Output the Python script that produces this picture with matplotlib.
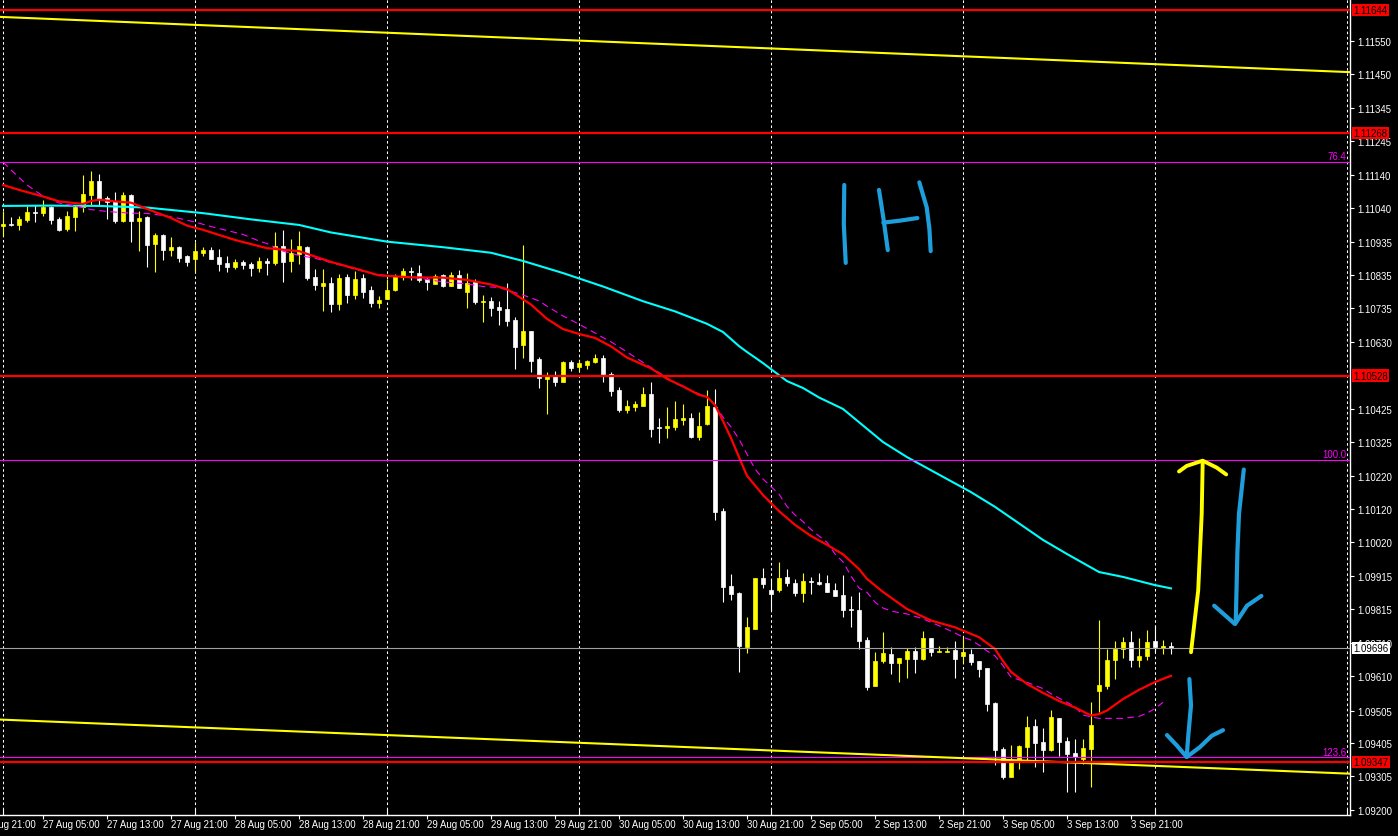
import matplotlib
matplotlib.use('Agg')
import matplotlib.pyplot as plt
from matplotlib.transforms import blended_transform_factory

plt.rcParams['font.family'] = ['Liberation Sans', 'DejaVu Sans']

# ---------------- data (hourly EURUSD bars, index 0 = 27 Aug 00:00) ----------------
opens = [1.10986, 1.10990, 1.10989, 1.11003, 1.11028, 1.11024, 1.11042, 1.11006, 1.10976, 1.11013,
         1.11044, 1.11080, 1.11121, 1.11070, 1.11061, 1.11000, 1.11079, 1.11000, 1.11011, 1.10930,
         1.10957, 1.10911, 1.10920, 1.10892, 1.10884, 1.10901, 1.10911, 1.10889, 1.10872, 1.10859,
         1.10875, 1.10868, 1.10857, 1.10879, 1.10872, 1.10923, 1.10879, 1.10899, 1.10921, 1.10829,
         1.10802, 1.10811, 1.10747, 1.10829, 1.10775, 1.10826, 1.10790, 1.10750, 1.10762, 1.10789,
         1.10830, 1.10848, 1.10841, 1.10823, 1.10809, 1.10836, 1.10802, 1.10836, 1.10784, 1.10816,
         1.10754, 1.10757, 1.10737, 1.10731, 1.10698, 1.10621, 1.10664, 1.10579, 1.10517, 1.10528,
         1.10509, 1.10569, 1.10554, 1.10560, 1.10570, 1.10582, 1.10533, 1.10484, 1.10424, 1.10433,
         1.10436, 1.10472, 1.10371, 1.10369, 1.10372, 1.10393, 1.10398, 1.10341, 1.10380, 1.10431,
         1.10114, 1.09884, 1.09864, 1.09700, 1.09754, 1.09910, 1.09873, 1.09873, 1.09914, 1.09894,
         1.09864, 1.09902, 1.09898, 1.09894, 1.09874, 1.09858, 1.09815, 1.09812, 1.09720, 1.09581,
         1.09657, 1.09678, 1.09649, 1.09662, 1.09687, 1.09662, 1.09727, 1.09683, 1.09685, 1.09690,
         1.09672, 1.09678, 1.09656, 1.09635, 1.09528, 1.09387, 1.09303, 1.09349, 1.09395, 1.09459,
         1.09408, 1.09384, 1.09482, 1.09411, 1.09375, 1.09357, 1.09387, 1.09566, 1.09581, 1.09659,
         1.09693, 1.09715, 1.09659, 1.09672, 1.09717, 1.09697, 1.09702]
highs = [1.11032, 1.11011, 1.11014, 1.11047, 1.11049, 1.11065, 1.11047, 1.11011, 1.11032, 1.11047,
         1.11141, 1.11152, 1.11144, 1.11077, 1.11088, 1.11088, 1.11083, 1.11032, 1.11016, 1.10963,
         1.10960, 1.10950, 1.10923, 1.10896, 1.10937, 1.10920, 1.10920, 1.10915, 1.10892, 1.10884,
         1.10881, 1.10874, 1.10889, 1.10886, 1.10966, 1.10973, 1.10945, 1.10970, 1.10925, 1.10853,
         1.10853, 1.10828, 1.10838, 1.10838, 1.10848, 1.10838, 1.10802, 1.10770, 1.10823, 1.10838,
         1.10856, 1.10860, 1.10867, 1.10828, 1.10838, 1.10838, 1.10843, 1.10850, 1.10841, 1.10823,
         1.10774, 1.10767, 1.10757, 1.10811, 1.10706, 1.10927, 1.10664, 1.10584, 1.10538, 1.10541,
         1.10573, 1.10576, 1.10576, 1.10576, 1.10594, 1.10591, 1.10538, 1.10492, 1.10453, 1.10451,
         1.10492, 1.10509, 1.10398, 1.10433, 1.10450, 1.10441, 1.10414, 1.10418, 1.10484, 1.10487,
         1.10124, 1.09922, 1.09866, 1.09792, 1.09910, 1.09940, 1.09907, 1.09960, 1.09937, 1.09907,
         1.09925, 1.09914, 1.09924, 1.09919, 1.09894, 1.09919, 1.09854, 1.09868, 1.09729, 1.09685,
         1.09744, 1.09700, 1.09665, 1.09695, 1.09698, 1.09748, 1.09727, 1.09703, 1.09700, 1.09718,
         1.09730, 1.09693, 1.09656, 1.09635, 1.09532, 1.09393, 1.09400, 1.09400, 1.09489, 1.09479,
         1.09452, 1.09507, 1.09482, 1.09423, 1.09418, 1.09418, 1.09530, 1.09782, 1.09693, 1.09718,
         1.09730, 1.09749, 1.09727, 1.09751, 1.09766, 1.09720, 1.09713]
lows = [1.10955, 1.10986, 1.10973, 1.10996, 1.10998, 1.11016, 1.10991, 1.10970, 1.10970, 1.10970,
        1.11028, 1.11050, 1.11050, 1.11006, 1.10993, 1.10996, 1.10935, 1.10909, 1.10860, 1.10845,
        1.10882, 1.10894, 1.10874, 1.10863, 1.10843, 1.10894, 1.10884, 1.10848, 1.10845, 1.10853,
        1.10853, 1.10833, 1.10843, 1.10835, 1.10866, 1.10815, 1.10845, 1.10869, 1.10821, 1.10790,
        1.10726, 1.10723, 1.10729, 1.10750, 1.10762, 1.10765, 1.10736, 1.10734, 1.10762, 1.10787,
        1.10821, 1.10821, 1.10815, 1.10790, 1.10808, 1.10798, 1.10801, 1.10796, 1.10734, 1.10747,
        1.10692, 1.10711, 1.10682, 1.10680, 1.10548, 1.10583, 1.10540, 1.10491, 1.10412, 1.10497,
        1.10507, 1.10543, 1.10543, 1.10548, 1.10566, 1.10509, 1.10466, 1.10416, 1.10413, 1.10421,
        1.10435, 1.10341, 1.10322, 1.10337, 1.10363, 1.10378, 1.10337, 1.10332, 1.10377, 1.10088,
        1.09836, 1.09843, 1.09624, 1.09681, 1.09754, 1.09879, 1.09812, 1.09866, 1.09886, 1.09856,
        1.09837, 1.09861, 1.09888, 1.09868, 1.09856, 1.09792, 1.09759, 1.09693, 1.09569, 1.09581,
        1.09649, 1.09617, 1.09593, 1.09605, 1.09620, 1.09659, 1.09672, 1.09683, 1.09685, 1.09604,
        1.09649, 1.09645, 1.09608, 1.09505, 1.09340, 1.09296, 1.09303, 1.09326, 1.09347, 1.09332,
        1.09318, 1.09382, 1.09367, 1.09255, 1.09255, 1.09342, 1.09272, 1.09500, 1.09571, 1.09601,
        1.09665, 1.09639, 1.09639, 1.09659, 1.09685, 1.09678, 1.09678]
closes = [1.10991, 1.10988, 1.11006, 1.11028, 1.11024, 1.11044, 1.11004, 1.10973, 1.11014, 1.11044,
          1.11083, 1.11121, 1.11067, 1.11059, 1.11000, 1.11079, 1.11000, 1.11009, 1.10928, 1.10957,
          1.10912, 1.10921, 1.10887, 1.10876, 1.10908, 1.10912, 1.10884, 1.10870, 1.10860, 1.10875,
          1.10866, 1.10857, 1.10878, 1.10873, 1.10923, 1.10876, 1.10902, 1.10923, 1.10825, 1.10805,
          1.10811, 1.10747, 1.10826, 1.10775, 1.10823, 1.10784, 1.10750, 1.10760, 1.10790, 1.10833,
          1.10848, 1.10843, 1.10820, 1.10813, 1.10833, 1.10802, 1.10836, 1.10796, 1.10811, 1.10754,
          1.10757, 1.10734, 1.10729, 1.10696, 1.10616, 1.10665, 1.10573, 1.10520, 1.10530, 1.10509,
          1.10569, 1.10552, 1.10566, 1.10572, 1.10583, 1.10532, 1.10482, 1.10424, 1.10435, 1.10442,
          1.10472, 1.10365, 1.10369, 1.10374, 1.10395, 1.10398, 1.10341, 1.10374, 1.10436, 1.10112,
          1.09883, 1.09861, 1.09703, 1.09760, 1.09910, 1.09891, 1.09861, 1.09910, 1.09894, 1.09864,
          1.09902, 1.09897, 1.09892, 1.09868, 1.09856, 1.09813, 1.09811, 1.09718, 1.09578, 1.09656,
          1.09681, 1.09649, 1.09665, 1.09687, 1.09662, 1.09727, 1.09683, 1.09688, 1.09688, 1.09662,
          1.09683, 1.09654, 1.09632, 1.09525, 1.09384, 1.09301, 1.09352, 1.09396, 1.09456, 1.09406,
          1.09384, 1.09486, 1.09408, 1.09372, 1.09362, 1.09390, 1.09461, 1.09583, 1.09659, 1.09693,
          1.09715, 1.09659, 1.09672, 1.09715, 1.09700, 1.09702, 1.09696]

time_labels = ["26 Aug 21:00", "27 Aug 05:00", "27 Aug 13:00", "27 Aug 21:00", "28 Aug 05:00",
               "28 Aug 13:00", "28 Aug 21:00", "29 Aug 05:00", "29 Aug 13:00", "29 Aug 21:00",
               "30 Aug 05:00", "30 Aug 13:00", "30 Aug 21:00", "2 Sep 05:00", "2 Sep 13:00",
               "2 Sep 21:00", "3 Sep 05:00", "3 Sep 13:00", "3 Sep 21:00"]
label_bars = [-3, 5, 13, 21, 29, 37, 45, 53, 61, 69, 77, 85, 93, 101, 109, 117, 125, 133, 141]
day_bars = [0, 24, 48, 72, 96, 120, 144, 168]

cyan_bars = [0, 6, 12, 18, 25, 31, 37, 41, 48, 55, 61, 65, 70, 75, 80, 84, 88, 90, 92, 93, 95, 98,
             100, 102, 105, 110, 113, 118, 121, 124, 130, 133, 137, 140, 144, 146]
cyan_vals = [1.11046, 1.11047, 1.11046, 1.11041, 1.11024, 1.11005, 1.10988, 1.10965, 1.10937,
             1.10920, 1.10903, 1.10878, 1.10841, 1.10800, 1.10755, 1.10724, 1.10686, 1.10661,
             1.10618, 1.10600, 1.10566, 1.10511, 1.10490, 1.10461, 1.10426, 1.10325, 1.10279,
             1.10212, 1.10172, 1.10127, 1.10026, 1.09983, 1.09928, 1.09913, 1.09888, 1.09878]

red_bars = [0, 2, 5, 7, 10, 11, 12, 14, 16, 18, 21, 23, 25, 29, 33, 37, 41, 44, 47, 51, 55, 58, 61,
            63, 66, 68, 70, 72, 74, 76, 78, 81, 83, 85, 87, 88, 89, 90, 91, 92, 93, 95, 97, 99, 101,
            103, 105, 107, 108, 110, 113, 116, 119, 122, 124, 125, 126, 128, 130, 132, 134, 136,
            137, 138, 140, 142, 144, 146]
red_vals = [1.11110, 1.11095, 1.11075, 1.11060, 1.11052, 1.11061, 1.11065, 1.11060, 1.11056, 1.11037,
            1.11009, 1.10986, 1.10973, 1.10942, 1.10917, 1.10908, 1.10875, 1.10855, 1.10834, 1.10828,
            1.10827, 1.10820, 1.10806, 1.10792, 1.10745, 1.10701, 1.10670, 1.10655, 1.10643, 1.10617,
            1.10583, 1.10550, 1.10518, 1.10495, 1.10469, 1.10463, 1.10438, 1.10389, 1.10337, 1.10279,
            1.10222, 1.10163, 1.10114, 1.10072, 1.10038, 1.10011, 1.09982, 1.09937, 1.09907, 1.09867,
            1.09815, 1.09780, 1.09759, 1.09729, 1.09693, 1.09656, 1.09623, 1.09586, 1.09559, 1.09534,
            1.09514, 1.09490, 1.09494, 1.09505, 1.09540, 1.09568, 1.09592, 1.09611]

mag_bars = [0, 1, 3, 5, 7, 9, 11, 13, 16, 18, 20, 22, 24, 26, 28, 30, 32, 33, 35, 37, 39, 41, 44,
            46, 48, 51, 55, 58, 60, 62, 63, 65, 67, 68, 70, 72, 74, 75, 76, 78, 80, 82, 84, 86, 88,
            89, 90, 91, 92, 93, 94, 95, 96, 97, 98, 99, 100, 101, 102, 103, 104, 105, 106, 107, 108,
            109, 110, 111, 112, 113, 115, 117, 119, 120, 121, 122, 123, 124, 125, 126, 128, 130,
            131, 133, 134, 135, 137, 140, 142, 143, 144, 145]
mag_vals = [1.11180, 1.11156, 1.11110, 1.11076, 1.11055, 1.11046, 1.11035, 1.11029, 1.11024, 1.11023,
            1.11017, 1.11008, 1.10997, 1.10983, 1.10971, 1.10959, 1.10939, 1.10931, 1.10908, 1.10895,
            1.10886, 1.10873, 1.10853, 1.10840, 1.10833, 1.10829, 1.10814, 1.10808, 1.10800, 1.10797,
            1.10789, 1.10774, 1.10756, 1.10740, 1.10710, 1.10685, 1.10658, 1.10644, 1.10631, 1.10600,
            1.10568, 1.10537, 1.10505, 1.10482, 1.10462, 1.10438, 1.10401, 1.10371, 1.10334, 1.10288,
            1.10243, 1.10212, 1.10189, 1.10166, 1.10128, 1.10102, 1.10082, 1.10058, 1.10038, 1.10019,
            1.09983, 1.09959, 1.09916, 1.09879, 1.09866, 1.09836, 1.09818, 1.09809, 1.09804, 1.09800,
            1.09785, 1.09764, 1.09742, 1.09729, 1.09720, 1.09705, 1.09687, 1.09672, 1.09642, 1.09607,
            1.09591, 1.09572, 1.09556, 1.09530, 1.09516, 1.09491, 1.09481, 1.09481, 1.09487, 1.09497,
            1.09511, 1.09530]

red_levels = [1.11644, 1.11268, 1.10528, 1.09347]
fib_levels = [1.11180, 1.10271, 1.09362]
fib_labels = ["76.4", "100.0", "123.6"]
bid_price = 1.09696
channel_top = [(0, 1.11623), (146, 1.11477)]
channel_bottom = [(0, 1.09477), (146, 1.09334)]

ytick_vals = [1.11550, 1.11450, 1.11345, 1.11245, 1.11140, 1.11040, 1.10935, 1.10835, 1.10735,
              1.10630, 1.10425, 1.10325, 1.10220, 1.10120, 1.10020, 1.09915, 1.09815,
              1.09710, 1.09610, 1.09505, 1.09405, 1.09305, 1.09200]

# hand-drawn annotations (bar index, price)
h1_strokes = [
    ([105.16, 105.10, 105.34], [1.11110, 1.10991, 1.10872]),
    ([109.50, 110.10, 110.60], [1.11095, 1.11000, 1.10911]),
    ([110.04, 112.10, 114.30], [1.10995, 1.11001, 1.11009]),
    ([114.54, 115.46, 115.80, 115.96], [1.11118, 1.11042, 1.10976, 1.10908]),
]
yellow_arrow = [
    ([148.50, 149.40, 149.84, 149.96], [1.09683, 1.09872, 1.10106, 1.10264]),
    ([147.00, 147.96, 149.96, 151.70, 152.90], [1.10235, 1.10252, 1.10268, 1.10247, 1.10226]),
]
blue_arrows = [
    ([155.10, 154.50, 154.30, 154.10], [1.10241, 1.10106, 1.09989, 1.09778]),
    ([151.40, 152.75, 154.00, 155.50, 157.30], [1.09825, 1.09796, 1.09769, 1.09825, 1.09855]),
    ([148.30, 148.50, 148.16, 147.96], [1.09601, 1.09521, 1.09428, 1.09363]),
    ([145.50, 146.70, 147.96, 149.60, 151.10, 152.50], [1.09430, 1.09399, 1.09363, 1.09393, 1.09428, 1.09445]),
]

# ---------------- figure ----------------
W, H = 1398, 837
fig = plt.figure(figsize=(W / 100, H / 100), dpi=100, facecolor='black')
ax = fig.add_axes([0, 21 / H, 1350 / W, 816 / H])
ax.set_facecolor('black')
ax.set_xlim(-0.375, 168.375)
ax.set_ylim(1.091859, 1.11678)

for s in ['left', 'top']:
    ax.spines[s].set_visible(False)
for s in ['bottom', 'right']:
    ax.spines[s].set_color('white')
    ax.spines[s].set_linewidth(1.0)

# vertical grid at midnights
for d in day_bars:
    ax.axvline(d, color='white', lw=0.75, ls=(0, (2.5, 2.5)), zorder=0.5)

# candles
idx = list(range(len(opens)))
cols = ['#FFFF00' if c >= o else '#FFFFFF' for o, c in zip(opens, closes)]
ax.vlines(idx, lows, highs, colors=cols, linewidth=0.8, zorder=2)
bottoms = [min(o, c) for o, c in zip(opens, closes)]
heights = [abs(c - o) for o, c in zip(opens, closes)]
ax.bar(idx, heights, bottom=bottoms, width=0.56, color=cols, edgecolor=cols, linewidth=0.5, zorder=2.1)

# moving averages
ax.plot(cyan_bars, cyan_vals, color='#00FFFF', lw=1.5, zorder=3)
ax.plot(mag_bars, mag_vals, color='#FF00FF', lw=0.8, ls=(0, (6, 4)), zorder=3)
ax.plot(red_bars, red_vals, color='#FF0000', lw=1.6, zorder=3.1)

# horizontal levels
for lv in fib_levels:
    ax.axhline(lv, color='#FF00FF', lw=0.8, zorder=3.5)
for lv in red_levels:
    ax.axhline(lv, color='#FF0000', lw=1.6, zorder=3.6)
ax.axhline(bid_price, color='#A0A0A0', lw=0.8, zorder=3.4)
ax.axline(channel_top[0], channel_top[1], color='#FFFF00', lw=1.5, zorder=3.5)
ax.axline(channel_bottom[0], channel_bottom[1], color='#FFFF00', lw=1.5, zorder=3.5)

for lv, lb in zip(fib_levels, fib_labels):
    ax.text(167.9, lv + 0.00002, lb, color='#FF00FF', fontsize=6.9, ha='right', va='bottom', zorder=4)

# hand-drawn marks
for xs, ys in h1_strokes:
    ax.plot(xs, ys, color='#1E9FDC', lw=3.0, solid_capstyle='round', solid_joinstyle='round', zorder=5)
for xs, ys in blue_arrows:
    ax.plot(xs, ys, color='#1E9FDC', lw=3.0, solid_capstyle='round', solid_joinstyle='round',
            zorder=5, clip_on=False)
for xs, ys in yellow_arrow:
    ax.plot(xs, ys, color='#FFFF00', lw=2.8, solid_capstyle='round', solid_joinstyle='round',
            zorder=5, clip_on=False)

# y axis on the right
ax.yaxis.tick_right()
ax.set_yticks(ytick_vals, labels=[f'{v:.5f}' for v in ytick_vals])
ax.tick_params(axis='y', colors='white', labelsize=6.9, length=3, width=0.8, direction='out', pad=2)

# x axis ticks
ax.set_xticks(label_bars[1:], labels=[''] * (len(label_bars) - 1))
ax.set_xticks(day_bars, minor=True)
ax.tick_params(axis='x', which='major', colors='white', length=3, width=0.8, direction='out')
ax.tick_params(axis='x', which='minor', colors='white', length=4, width=0.8, direction='in')

trx = blended_transform_factory(ax.transData, ax.transAxes)
for b, t in zip(label_bars, time_labels):
    ax.text(b - 0.05, -0.0055, t, transform=trx, color='white', fontsize=6.9,
            ha='left', va='top', clip_on=False)

# price boxes
try_ = blended_transform_factory(ax.transAxes, ax.transData)
for lv in red_levels:
    ax.text(1.0025, lv, f'{lv:.5f}', transform=try_, color='black', fontsize=6.9, ha='left',
            va='center', clip_on=False, zorder=10,
            bbox=dict(boxstyle='square,pad=0.12', fc='#FF0000', ec='none'))
ax.text(1.0025, bid_price, f'{bid_price:.5f}', transform=try_, color='black', fontsize=6.9,
        ha='left', va='center', clip_on=False, zorder=10,
        bbox=dict(boxstyle='square,pad=0.12', fc='white', ec='none'))

fig.savefig('out.png', dpi=100, facecolor='black')
